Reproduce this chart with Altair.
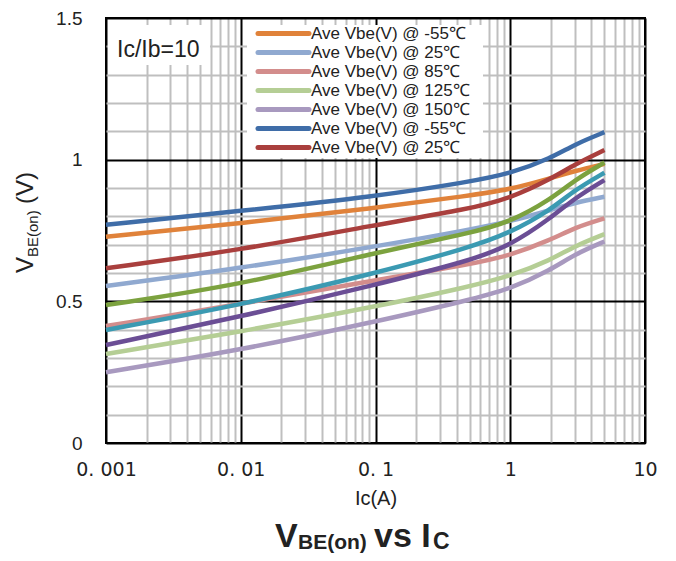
import altair as alt
import pandas as pd

# ---- data ----
ic = [0.001, 0.01, 0.1, 0.5, 1, 2, 3, 5]

series_ids = ["s1", "s2", "s3", "s4", "s5", "s6", "s7", "s8", "s9", "s10"]
series_labels = ["Ave Vbe(V) @ -55℃", "Ave Vbe(V) @ 25℃", "Ave Vbe(V) @ 85℃",
                 "Ave Vbe(V) @ 125℃", "Ave Vbe(V) @ 150℃", "Ave Vbe(V) @ -55℃",
                 "Ave Vbe(V) @ 25℃", "", "", ""]
series_colors = ["#E0823A", "#90A9D0", "#D38D8C", "#B5CE95", "#A899BF",
                 "#3F6DA8", "#A93F3D", "#7CA23F", "#3B9AB2", "#6B4E95"]

vbe_s1 = [0.728, 0.775, 0.830, 0.873, 0.895, 0.935, 0.960, 0.985]
vbe_s2 = [0.554, 0.617, 0.693, 0.753, 0.782, 0.822, 0.848, 0.869]
vbe_s3 = [0.413, 0.490, 0.575, 0.630, 0.662, 0.717, 0.760, 0.793]
vbe_s4 = [0.314, 0.393, 0.481, 0.552, 0.589, 0.646, 0.695, 0.737]
vbe_s5 = [0.250, 0.328, 0.428, 0.505, 0.544, 0.611, 0.666, 0.711]
vbe_s6 = [0.770, 0.819, 0.870, 0.922, 0.951, 1.005, 1.054, 1.097]
vbe_s7 = [0.617, 0.681, 0.770, 0.826, 0.864, 0.932, 0.983, 1.034]
vbe_s8 = [0.487, 0.558, 0.672, 0.740, 0.780, 0.860, 0.928, 0.990]
vbe_s9 = [0.399, 0.487, 0.599, 0.690, 0.742, 0.823, 0.893, 0.954]
vbe_s10 = [0.346, 0.446, 0.558, 0.643, 0.697, 0.794, 0.864, 0.928]

x_decades = [0.001, 0.01, 0.1, 1, 10]
x_decade_labels = ["0. 001", "0. 01", "0. 1", "1", "10"]
y_major = [0, 0.5, 1, 1.5]
y_major_labels = ["0", "0.5", "1", "1.5"]

# ---- build tables ----
all_vbe = [vbe_s1, vbe_s2, vbe_s3, vbe_s4, vbe_s5, vbe_s6, vbe_s7, vbe_s8, vbe_s9, vbe_s10]
rows = []
for k, (sid, vals) in enumerate(zip(series_ids, all_vbe)):
    for x, v in zip(ic, vals):
        rows.append({"series": sid, "order": k, "ic": x, "vbe": v})
df = pd.DataFrame(rows)

legend_n = 7
legend_df = pd.DataFrame({
    "idx": list(range(legend_n)),
    "label": series_labels[:legend_n],
    "color": series_colors[:legend_n],
})

x_ticks = sorted({round(d * k, 6) for d in x_decades[:-1] for k in range(1, 10)} | {x_decades[-1]})
y_ticks = [round(i * 0.1, 1) for i in range(16)]

x_label_expr = "".join(
    f"abs(datum.value-{v})<{v * 1e-3} ? '{lab}' : " for v, lab in zip(x_decades, x_decade_labels)
) + "''"
y_label_expr = "".join(
    f"abs(datum.value-{v})<1e-6 ? '{lab}' : " for v, lab in zip(y_major, y_major_labels)
) + "''"

GRAY = "#BFBFBF"
TXT = "#222222"
W, H = 539, 425

x_axis = alt.Axis(
    values=x_ticks, labelExpr=x_label_expr, grid=True,
    gridColor={"condition": {"test": "abs(log(datum.value)/LN10 - round(log(datum.value)/LN10)) < 0.001",
                             "value": "black"}, "value": GRAY},
    gridWidth=2, ticks=False, domain=False, labelFont="DejaVu Sans", labelFontSize=19,
    labelColor=TXT, labelPadding=17, labelOverlap=False, labelFlush=False,
    title="Ic(A)", titleFont="Liberation Sans", titleFontSize=20, titleFontWeight="normal",
    titleColor=TXT, titlePadding=9,
)
y_axis = alt.Axis(
    values=y_ticks, labelExpr=y_label_expr, grid=True,
    gridColor={"condition": {"test": "abs(datum.value*2 - round(datum.value*2)) < 1e-6",
                             "value": "black"}, "value": GRAY},
    gridWidth=2, ticks=False, domain=False, labelFont="Liberation Sans", labelFontSize=19,
    labelColor=TXT, labelPadding=24, title=None,
)

base = alt.Chart(df)

lines = base.mark_line(strokeWidth=4.5, interpolate="basis").encode(
    x=alt.X("ic:Q", scale=alt.Scale(type="log", domain=[0.001, 10], nice=False), axis=x_axis),
    y=alt.Y("vbe:Q", scale=alt.Scale(domain=[0, 1.5], nice=False), axis=y_axis),
    color=alt.Color("series:N", scale=alt.Scale(domain=series_ids, range=series_colors), legend=None),
    detail="series:N",
    order="order:Q",
)

# inner boxes (white backgrounds)
ratio_box = alt.Chart(pd.DataFrame({"k": [0]})).mark_rect(fill="white").encode(
    x=alt.value(2), x2=alt.value(104), y=alt.value(7), y2=alt.value(47))
ratio_text = alt.Chart(pd.DataFrame({"t": ["Ic/Ib=10"]})).mark_text(
    align="left", baseline="alphabetic", font="Liberation Sans", fontSize=23, color=TXT
).encode(text="t:N", x=alt.value(11), y=alt.value(39))

legend_box = alt.Chart(pd.DataFrame({"k": [0]})).mark_rect(fill="white").encode(
    x=alt.value(141), x2=alt.value(377), y=alt.value(7), y2=alt.value(140))
legend_lines = alt.Chart(legend_df).transform_calculate(
    py="15.5 + 19*datum.idx"
).mark_rule(strokeWidth=5, strokeCap="round").encode(
    x=alt.value(152), x2=alt.value(203),
    y=alt.Y("py:Q", scale=None),
    color=alt.Color("color:N", scale=None),
)
legend_text = alt.Chart(legend_df).transform_calculate(
    py="15.5 + 19*datum.idx"
).mark_text(align="left", baseline="middle", font="Liberation Sans", fontSize=17, color=TXT).encode(
    x=alt.value(205), y=alt.Y("py:Q", scale=None), text="label:N",
)


def piece(txt, x, y, size, angle=0, bold=False):
    return alt.Chart(pd.DataFrame({"t": [txt]})).mark_text(
        align="left", baseline="alphabetic", font="Liberation Sans", fontSize=size,
        fontWeight="bold" if bold else "normal", angle=angle, color=TXT,
    ).encode(text="t:N", x=alt.value(x), y=alt.value(y))


# y-axis title with subscript (rotated)
ytitle = [
    piece("V", -73, 255, 24, angle=270),
    piece("BE(on)", -68, 239, 15, angle=270),
    piece("(V)", -73, 186, 24, angle=270),
]
# bottom title with subscripts
main_title = [
    piece("V", 169, 529, 34, bold=True),
    piece("BE(on)", 192, 531, 21, bold=True),
    piece("vs I", 268, 529, 34, bold=True),
    piece("C", 327, 531, 23, bold=True),
]

chart = alt.layer(
    lines, ratio_box, ratio_text, legend_box, legend_lines, legend_text, *ytitle, *main_title
).properties(
    width=W, height=H,
    autosize=alt.AutoSizeParams(type="none"),
    padding={"left": 98, "top": 10, "right": 23, "bottom": 110},
    background="white",
).configure_view(stroke="black", strokeWidth=2)

chart.save("out.html", embed_options={"renderer": "svg", "actions": False})
